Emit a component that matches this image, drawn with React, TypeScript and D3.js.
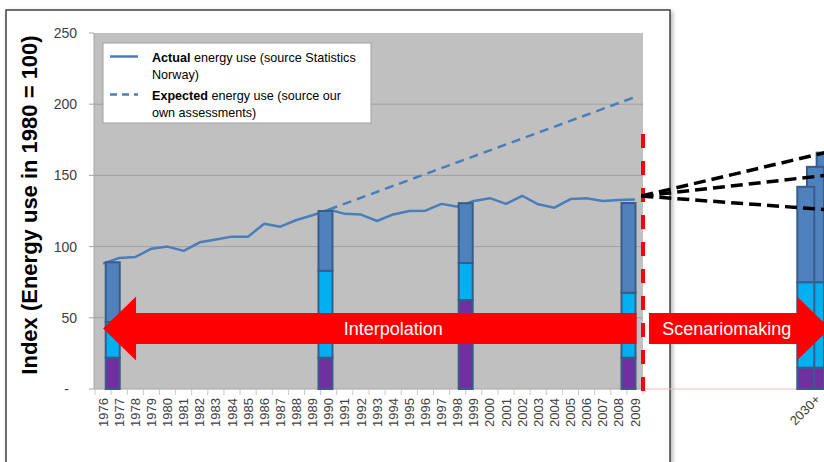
import React from 'react';
import * as d3 from 'd3';

// ---------- data ----------
const years = ['1976','1977','1978','1979','1980','1981','1982','1983','1984','1985','1986','1987','1988','1989','1990','1991','1992','1993','1994','1995','1996','1997','1998','1999','2000','2001','2002','2003','2004','2005','2006','2007','2008','2009'];
const actualUse = [88, 92, 92.7, 98.5, 100, 97, 103, 105, 107, 107, 116, 114, 118.7, 122, 126, 123, 122.5, 118, 122.6, 125, 125.2, 130, 128, 132, 134, 130, 135.7, 129.7, 127.3, 133.4, 134, 132, 132.7, 133];
const expectedYears = ['1990', '2009'];
const expectedUse = [126, 205];

const yTickValues = [0, 50, 100, 150, 200, 250];
const yTickLabels = ['-', '50', '100', '150', '200', '250'];

// historic stacked bars (placed on the year axis)
const barYears = [1976.6, 1989.8, 1998.5, 2008.6];
const barPurple = [22, 22, 62.5, 22];
const barCyan = [25, 61, 26, 45.6];
const barBlue = [42, 42, 42, 63];

// scenario stacked bars
const scenYears = [2019.6, 2020.2, 2020.8];
const scenPurple = [15, 15, 15];
const scenCyan = [60, 60, 60];
const scenBlue = [67, 81, 91];
const scenLabel = '2030+';

// scenario fan lines
const fanStartYear = 2009.4;
const fanStartValue = 135.5;
const fanEndYear = 2020.8;
const fanEndValues = [166, 150, 126];

// arrows
const interpArrow = { from: 2009.1, to: 1976.0, value: 42.5, labelYear: 1994.0, label: 'Interpolation' };
const scenArrow = { from: 2009.87, to: 2021.1, value: 42.5, labelYear: 2014.7, label: 'Scenariomaking' };
const dividerYear = 2009.5;
const dividerTop = 179;

const legendItems = [
  { bold: 'Actual', rest: ' energy use (source Statistics', line2: 'Norway)', dashed: false },
  { bold: 'Expected', rest: ' energy use (source our', line2: 'own assessments)', dashed: true },
];

// ---------- styles ----------
const C_LINE = '#4a7ebb';
const C_BLUE = '#4f81bd';
const C_CYAN = '#00b0f0';
const C_PURPLE = '#7030a0';
const C_BAR_STROKE = '#385d8a';
const C_RED = '#ff0000';
const FONT = 'Liberation Sans, Arial, sans-serif';

export default function App() {
  const W = 824, H = 462;
  const plotL = 95, plotR = 643, plotT = 33, plotB = 389;

  const x = d3.scaleBand<string>().domain(years).range([plotL, plotR]).padding(0);
  const bw = x.bandwidth();
  const xYear = d3.scaleLinear().domain([1975.5, 2009.5]).range([plotL, plotR]);
  const y = d3.scaleLinear().domain([0, 250]).range([plotB, plotT]);

  const line = d3.line<number>()
    .x((_, i) => (x(years[i]) as number) + bw / 2)
    .y(d => y(d));
  const expLine = d3.line<number>()
    .x((_, i) => (x(expectedYears[i]) as number) + bw / 2)
    .y(d => y(d));

  const barW = 14;
  const scenW = 17;

  const stackRects = (cx: number, w: number, p: number, c: number, b: number, key: string) => {
    const segs = [
      { v0: 0, v1: p, fill: C_PURPLE },
      { v0: p, v1: p + c, fill: C_CYAN },
      { v0: p + c, v1: p + c + b, fill: C_BLUE },
    ];
    return (
      <g key={key}>
        {segs.map((s, i) => (
          <rect key={i} x={cx - w / 2} y={y(s.v1)} width={w} height={y(s.v0) - y(s.v1)}
            fill={s.fill} stroke={C_BAR_STROKE} strokeWidth={2} />
        ))}
      </g>
    );
  };

  const arrowPath = (fromYear: number, toYear: number, value: number) => {
    const x0 = xYear(fromYear), x1 = xYear(toYear);
    const dir = Math.sign(x1 - x0);
    const cy = y(value);
    const bodyH = 15.5, headH = 32, headL = 33;
    const xb = x1 - dir * headL;
    return `M${x0},${cy - bodyH} L${xb},${cy - bodyH} L${xb},${cy - headH} L${x1},${cy} L${xb},${cy + headH} L${xb},${cy + bodyH} L${x0},${cy + bodyH} Z`;
  };

  return (
    <svg width={W} height={H} style={{ position: 'absolute', left: 0, top: 0, background: '#fff' }}
      fontFamily={FONT}>
      <defs>
        <filter id="sh" x="-5%" y="-5%" width="110%" height="110%">
          <feDropShadow dx="2" dy="2" stdDeviation="2" floodColor="#000" floodOpacity="0.3" />
        </filter>
      </defs>
      <rect x={0} y={0} width={W} height={H} fill="#fff" />
      {/* chart frame */}
      <rect x={6} y={10} width={664} height={470} fill="#fff" stroke="#404040" strokeWidth={1.5} filter="url(#sh)" />

      {/* plot background */}
      <rect x={plotL - 1} y={plotT} width={plotR - plotL + 1} height={plotB - plotT} fill="#c0c0c0" />
      {/* gridlines */}
      {yTickValues.filter(v => v > 0 && v < 250).map(v => (
        <line key={v} x1={plotL - 1} x2={plotR} y1={y(v)} y2={y(v)} stroke="#a0a0a0" strokeWidth={1} />
      ))}
      {/* y axis */}
      <line x1={plotL - 1} x2={plotL - 1} y1={plotT} y2={plotB} stroke="#a6a6a6" strokeWidth={1} />
      {yTickValues.map((v, i) => (
        <g key={v}>
          <line x1={plotL - 6} x2={plotL - 1} y1={y(v)} y2={y(v)} stroke="#a6a6a6" strokeWidth={1} />
          <text x={v === 0 ? 69 : 77} y={y(v)} dy="0.35em" textAnchor="end" fontSize={14} fill="#404040">
            {yTickLabels[i]}
          </text>
        </g>
      ))}
      {/* x axis */}
      <line x1={plotL - 1} x2={plotR} y1={plotB} y2={plotB} stroke="#a6a6a6" strokeWidth={1} />
      <line x1={plotR} x2={W} y1={plotB} y2={plotB} stroke="#f2b8b8" strokeWidth={1} />
      {years.map(yr => (
        <line key={'t' + yr} x1={x(yr) as number} x2={x(yr) as number} y1={plotB} y2={plotB + 6} stroke="#c8c8c8" strokeWidth={1} />
      ))}
      <line x1={plotR} x2={plotR} y1={plotB} y2={plotB + 6} stroke="#c8c8c8" strokeWidth={1} />
      {years.map(yr => (
        <text key={'l' + yr} transform={`translate(${(x(yr) as number) + bw / 2},${plotB + 9}) rotate(-90)`}
          textAnchor="end" dy="0.35em" fontSize={13} fill="#404040">{yr}</text>
      ))}

      {/* y title */}
      <text transform={`translate(29,${(plotT + plotB) / 2 - 6}) rotate(-90)`} textAnchor="middle" dy="0.35em"
        fontSize={22} fontWeight="bold" fill="#000">Index (Energy use in 1980 = 100)</text>

      {/* legend */}
      <rect x={103} y={43} width={268} height={80} fill="#fff" stroke="#a0a0a0" strokeWidth={1} />
      {legendItems.map((it, i) => {
        const ty = 61.5 + i * 38;
        return (
          <g key={i}>
            <line x1={110} x2={138} y1={ty - 5} y2={ty - 5} stroke={C_LINE} strokeWidth={2.5}
              strokeDasharray={it.dashed ? '7,5' : undefined} />
            <text x={152} y={ty} fontSize={12.6} fill="#000">
              <tspan fontWeight="bold">{it.bold}</tspan>{it.rest}
            </text>
            <text x={152} y={ty + 17} fontSize={12.6} fill="#000">{it.line2}</text>
          </g>
        );
      })}

      {/* expected (dashed) and actual lines */}
      <path d={expLine(expectedUse) as string} fill="none" stroke={C_LINE} strokeWidth={2.5} strokeDasharray="9,6" />
      <path d={line(actualUse) as string} fill="none" stroke={C_LINE} strokeWidth={2.5} strokeLinejoin="round" />

      {/* historic bars */}
      {barYears.map((yr, i) => stackRects(xYear(yr), barW, barPurple[i], barCyan[i], barBlue[i], 'b' + i))}

      {/* scenario bars (back to front) */}
      {scenYears.map((yr, i) => ({ yr, i })).reverse().map(({ yr, i }) =>
        stackRects(xYear(yr), scenW, scenPurple[i], scenCyan[i], scenBlue[i], 's' + i))}
      <text transform={`translate(${xYear(scenYears[0]) + 12},${plotB + 8}) rotate(-45)`} textAnchor="end" dy="0.35em"
        fontSize={13} fill="#404040">{scenLabel}</text>

      {/* arrows */}
      <path d={arrowPath(interpArrow.from, interpArrow.to, interpArrow.value)} fill={C_RED} />
      <text x={xYear(interpArrow.labelYear)} y={y(interpArrow.value)} dy="0.35em" textAnchor="middle" fontSize={18} fill="#fff">
        {interpArrow.label}
      </text>
      <path d={arrowPath(scenArrow.from, scenArrow.to, scenArrow.value)} fill={C_RED} />
      <text x={xYear(scenArrow.labelYear)} y={y(scenArrow.value)} dy="0.35em" textAnchor="middle" fontSize={18} fill="#fff">
        {scenArrow.label}
      </text>

      {/* divider */}
      <line x1={xYear(dividerYear)} x2={xYear(dividerYear)} y1={y(dividerTop)} y2={plotB + 5}
        stroke={C_RED} strokeWidth={4} strokeDasharray="14,13" />

      {/* fan lines */}
      {fanEndValues.map((v, i) => (
        <line key={'f' + i} x1={xYear(fanStartYear)} y1={y(fanStartValue)} x2={xYear(fanEndYear)} y2={y(v)}
          stroke="#000" strokeWidth={3.5} strokeDasharray="12,6" />
      ))}
    </svg>
  );
}
